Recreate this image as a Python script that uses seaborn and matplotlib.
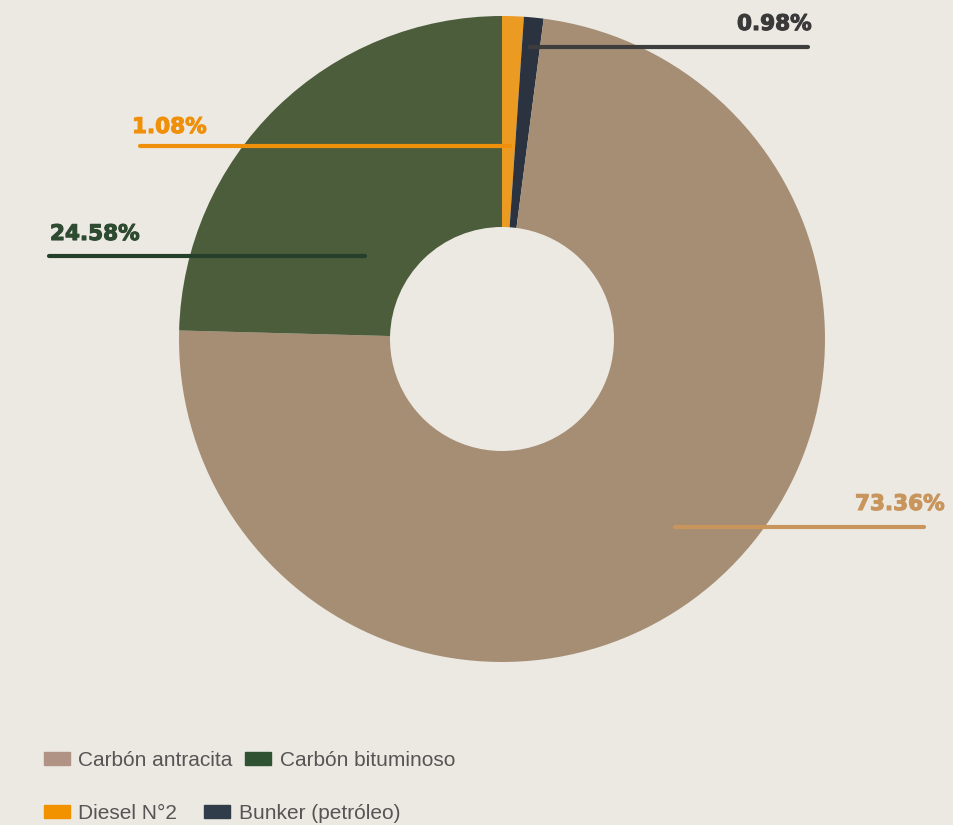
import matplotlib
matplotlib.use('Agg')
import matplotlib.pyplot as plt
import matplotlib.patches as mpatches
import matplotlib.patheffects as pe
import seaborn as sns

# Datos (orden del gráfico: desde las 12 en sentido horario)
fuentes = ['Diesel N°2', 'Bunker (petróleo)', 'Carbón antracita', 'Carbón bituminoso']
porcentajes = [1.08, 0.98, 73.36, 24.58]
colores = ['#eb9a22', '#2b3340', '#a68e74', '#4c5d3b']

# Orden de la leyenda
orden_leyenda = ['Carbón antracita', 'Carbón bituminoso', 'Diesel N°2', 'Bunker (petróleo)']
colores_leyenda = {'Carbón antracita': '#b09384', 'Carbón bituminoso': '#2f5233',
                   'Diesel N°2': '#f39200', 'Bunker (petróleo)': '#313c4a'}

# Etiquetas: (texto x, texto y, línea x0, línea x1, línea y, color texto, color línea)
etiquetas = {
    'Bunker (petróleo)': (737, 30, 530, 808, 47, '#3a3a3a', '#3d3d3d'),
    'Diesel N°2': (132, 133, 140, 510, 146, '#f0900a', '#f0900a'),
    'Carbón bituminoso': (50, 240, 49, 365, 256, '#2e4a30', '#24402a'),
    'Carbón antracita': (855, 510, 675, 924, 527, '#c8955c', '#c8955c'),
}

sns.set_theme(style='white')
fondo = '#ece9e2'
W, H = 954, 825
fig = plt.figure(figsize=(W / 100, H / 100), dpi=100, facecolor=fondo)
ax = fig.add_axes([0, 0, 1, 1])
ax.set_facecolor(fondo)
ax.axis('off')

ax.pie(porcentajes, colors=colores, startangle=90, counterclock=False,
       center=(502, H - 339), radius=323,
       wedgeprops=dict(width=211, linewidth=0))
ax.set_xlim(0, W)
ax.set_ylim(0, H)
ax.set_aspect('equal')

for fuente, pct in zip(fuentes, porcentajes):
    tx, ty, x0, x1, ly, ct, cl = etiquetas[fuente]
    ax.plot([x0, x1], [H - ly, H - ly], color=cl, lw=3, solid_capstyle='round')
    ax.text(tx, H - ty, f'{pct:.2f}%', color=ct, fontsize=15.5, fontweight='bold',
            family='DejaVu Sans', ha='left', va='baseline',
            path_effects=[pe.withStroke(linewidth=0.8, foreground=ct)])

# Leyenda en dos filas
filas = [orden_leyenda[:2], orden_leyenda[2:]]
espacios = [0.6, 1.3]
for i, fila in enumerate(filas):
    handles = [mpatches.Patch(color=colores_leyenda[f], label=f) for f in fila]
    leg = fig.legend(handles=handles, ncol=2, frameon=False,
                     loc='upper left', bbox_to_anchor=(44 / W, 1 - (751 + 53 * i) / H),
                     borderaxespad=0, borderpad=0,
                     handlelength=1.25, handleheight=0.6, handletextpad=0.4,
                     columnspacing=espacios[i],
                     prop={'family': 'Liberation Sans', 'size': 15})
    for t in leg.get_texts():
        t.set_color('#555555')

fig.savefig('out.png', dpi=100, facecolor=fondo)
